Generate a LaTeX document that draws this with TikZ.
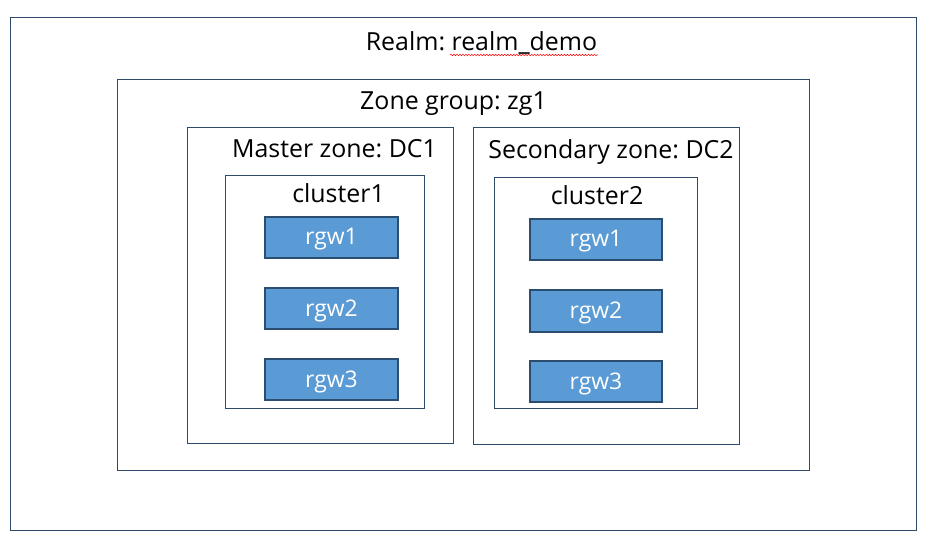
\documentclass[tikz,border=0pt]{standalone}
\usepackage{fontspec}
\setmainfont{Open Sans}
\usetikzlibrary{fit,decorations.pathmorphing}
\definecolor{edge}{HTML}{2E4A68}
\definecolor{rgwfill}{HTML}{5B9BD5}
\definecolor{rgwedge}{HTML}{2A4D70}
\tikzset{
  box/.style={draw=edge, line width=0.9pt, inner sep=0pt, fill=white},
  rgw/.style={draw=rgwedge, line width=1.1pt, fill=rgwfill, inner sep=0pt, text=white,
    font=\fontsize{23}{27}\selectfont},
  lbl/.style={anchor=base, inner sep=0pt, font=\fontsize{25}{30}\selectfont},
}
\begin{document}
\frenchspacing
\begin{tikzpicture}[x=1bp,y=-1bp]
\useasboundingbox (0,0) rectangle (938,548);
\node[box, fit={(10,17) (916,530)}] (realm) {};
\node[box, fit={(117,79) (809,470)}] (zg) {};
\node[box, fit={(187,127) (453,443)}] (master) {};
\node[box, fit={(473,127) (739,444)}] (secondary) {};
\node[box, fit={(225,175) (424,408)}] (cluster1) {};
\node[box, fit={(494,177) (697,408)}] (cluster2) {};
% rgw boxes
\node[rgw, fit={(265,217) (398,258)}] (l1) {};
\node[rgw, fit={(265,288) (398,329)}] (l2) {};
\node[rgw, fit={(265,359) (398,400)}] (l3) {};
\node[rgw, fit={(530,219) (662,260)}] (r1) {};
\node[rgw, fit={(530,290) (662,332)}] (r2) {};
\node[rgw, fit={(530,361) (662,402)}] (r3) {};
\foreach \n/\t in {l1/rgw1,l2/rgw2,l3/rgw3,r1/rgw1,r2/rgw2,r3/rgw3}
  \node[rgw, draw=none, fill=none, yshift=-2bp] (\n t) at (\n.center) {\t};
% labels
\node[lbl] (realmtxt) at (481.5,51) {Realm: realm\_demo};
\node[lbl] (zgtxt) at (453.5,110) {Zone group: zg1};
\node[lbl] (mastertxt) at (334.5,158) {Master zone: DC1};
\node[lbl] (sectxt) at (611,159) {Secondary zone: DC2};
\node[lbl] (c1txt) at (338.5,203) {cluster1};
\node[lbl] (c2txt) at (597,205) {cluster2};
\draw[red, line width=0.5pt, decorate, decoration={snake, amplitude=0.8pt, segment length=3pt}]
  (450,55) -- (598,55);
\end{tikzpicture}
\end{document}
